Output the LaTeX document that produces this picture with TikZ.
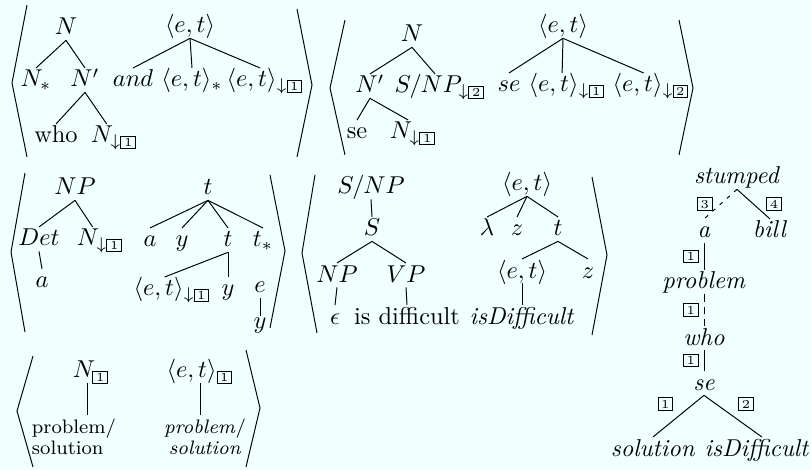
\documentclass[tikz,border=0pt]{standalone}
\usepackage{amsmath,amssymb}
\usepackage{tikz}
\usetikzlibrary{calc}
\definecolor{bgcyan}{HTML}{F0FFFF}
\newcommand{\tagbox}[1]{{\setlength{\fboxsep}{0.7pt}\fbox{\tiny\kern0.4pt#1\kern0.4pt}}}
\newcommand{\et}{\langle e,t\rangle}

\begin{document}
\begin{tikzpicture}[
 x=0.41pt, y=-0.41pt,
 tn/.style={anchor=base,inner xsep=0.5pt,inner ysep=1pt,text height=6.6pt,text depth=1pt},
 ml/.style={anchor=north,inner sep=1.5pt,font=\footnotesize},
 dl/.style={dash pattern=on 1.5pt off 2.5pt},
 dv/.style={dash pattern=on 3pt off 2pt},
 lb/.style={inner sep=0pt}
]
\fill[bgcyan] (0,0) rectangle (811,470);
\useasboundingbox (0,0) rectangle (811,470);

% angle brackets of the pairs
\draw (27,5) -- (12,83) -- (27,157);
\draw (297,9) -- (312,85) -- (297,157);
\draw (345,20) -- (330,88) -- (345,155);
\draw (679,20) -- (693,88) -- (679,155);
\draw (25,173) -- (11,252) -- (25,332);
\draw (270,175) -- (285,251) -- (270,328);
\draw (315,175) -- (302,253) -- (317,333);
\draw (592,177) -- (607,255) -- (592,335);
\draw (33,356) -- (17,411) -- (33,467);
\draw (246,350) -- (260,408) -- (246,467);

% pair 1: relative clause
\node[tn] (a1N) at (66,35) {$N$};
\node[tn] (a1Ns) at (36,87) {$N_*$};
\node[tn] (a1Np) at (85,87) {$N'$};
\node[tn] (a1who) at (56,143) {who};
\node[tn] (a1Nd) at (114,143) {$N_{\downarrow\tagbox{1}}$};
\node[tn] (b1et) at (190,33) {$\et$};
\node[tn] (b1and) at (133,87) {$and$};
\node[tn] (b1st) at (192,87) {$\et_*$};
\node[tn] (b1ft) at (265,87) {$\et_{\downarrow\tagbox{1}}$};
\foreach \p/\c in {a1N/a1Ns,a1N/a1Np,a1Np/a1who,b1et/b1and,b1et/b1st}
  \draw (\p.south) -- (\c.north);
\draw (a1Np.south) -- ([xshift=-3pt]a1Nd.north);
\draw (b1et.south) -- ([xshift=-2pt]b1ft.north);

% pair 2: se
\node[tn] (c2N) at (412,42) {$N$};
\node[tn] (c2Np) at (370,93) {$N'$};
\node[tn] (c2SNP) at (440,93) {$S/NP_{\downarrow\tagbox{2}}$};
\node[tn] (c2se) at (357,139) {se};
\node[tn] (c2Nd) at (413,139) {$N_{\downarrow\tagbox{1}}$};
\node[tn] (d2et) at (563,33) {$\et$};
\node[tn] (d2se) at (509,92) {$se$};
\node[tn] (d2f1) at (567,92) {$\et_{\downarrow\tagbox{1}}$};
\node[tn] (d2f2) at (651,92) {$\et_{\downarrow\tagbox{2}}$};
\foreach \p/\c in {c2N/c2Np,c2Np/c2se,d2et/d2se}
  \draw (\p.south) -- (\c.north);
\draw (c2N.south) -- ([xshift=-2pt]c2SNP.north);
\draw (c2Np.south) -- ([xshift=-2pt]c2Nd.north);
\draw (d2et.south) -- ([xshift=-2pt]d2f1.north);
\draw (d2et.south) -- ([xshift=-3pt]d2f2.north);

% pair 3: a
\node[tn] (e3NP) at (75,195) {$NP$};
\node[tn] (e3Det) at (39,246) {$Det$};
\node[tn] (e3Nd) at (100,246) {$N_{\downarrow\tagbox{1}}$};
\node[tn] (e3a) at (42,288) {$a$};
\node[tn] (f3t) at (208,195) {$t$};
\node[tn] (f3a) at (150,247) {$a$};
\node[tn] (f3y) at (182,247) {$y$};
\node[tn] (f3t2) at (228,247) {$t$};
\node[tn] (f3ts) at (263,247) {$t_*$};
\node[tn] (f3et) at (172,296) {$\et_{\downarrow\tagbox{1}}$};
\node[tn] (f3y2) at (228,296) {$y$};
\node[tn] (f3e) at (260,293) {$e$};
\node[tn] (f3y3) at (260,328) {$y$};
\foreach \p/\c in {e3NP/e3Det,e3Det/e3a,f3t/f3a,f3t/f3y,f3t/f3t2,f3t/f3ts,f3t2/f3y2}
  \draw (\p.south) -- (\c.north);
\draw (e3NP.south) -- ([xshift=-3pt]e3Nd.north);
\draw (f3t2.south) -- ([xshift=-3pt]f3et.north);
\draw (f3e.south) -- ([yshift=-3pt]f3y3.north);

% pair 4: is difficult
\node[tn] (g4SNP) at (371,194) {$S/NP$};
\node[tn] (g4S) at (372,236) {$S$};
\node[tn] (g4NP) at (337,282) {$NP$};
\node[tn] (g4VP) at (406,282) {$VP$};
\node[tn] (g4eps) at (335,324) {$\epsilon$};
\node[tn] (g4isd) at (407,324) {is difficult};
\node[tn] (h4et) at (527,191) {$\et$};
\node[tn] (h4lam) at (487,236) {$\lambda$};
\node[tn] (h4z) at (517,236) {$z$};
\node[tn] (h4t) at (558,236) {$t$};
\node[tn] (h4et2) at (522,278) {$\et$};
\node[tn] (h4z2) at (588,278) {$z$};
\node[tn] (h4isD) at (522,324) {\textit{isDifficult}};
\foreach \p/\c in {g4SNP/g4S,g4S/g4NP,g4S/g4VP,g4NP/g4eps,g4VP/g4isd,
                   h4et/h4lam,h4et/h4z,h4et/h4t,h4t/h4et2,h4t/h4z2,h4et2/h4isD}
  \draw (\p.south) -- (\c.north);

% pair 5: problem / solution
\node[tn] (i5N) at (91,378) {$N_{\tagbox{1}}$};
\node[ml,align=left] (i5ps) at (74,415) {problem/\\[-1pt]solution};
\node[tn] (j5et) at (200,378) {$\et_{\tagbox{1}}$};
\node[ml,align=center] (j5ps) at (205,415) {\textit{problem}/\\[-1pt]\textit{solution}};
\draw ([xshift=-1.5pt]i5N.south) -- ([xshift=-1.5pt]i5N.south |- i5ps.north);
\draw (j5et.south) -- (j5et.south |- j5ps.north);

% derivation tree
\node[tn] (stumped) at (737,184) {\textit{stumped}};
\node[tn] (da) at (704,238) {\textit{a}};
\node[tn] (dbill) at (770,238) {\textit{bill}};
\node[tn] (dproblem) at (704,289) {\textit{problem}};
\node[tn] (dwho) at (704,345) {\textit{who}};
\node[tn] (dse) at (704,390) {\textit{se}};
\node[tn] (dsol) at (653,456) {\textit{solution}};
\node[tn] (disd) at (757,456) {\textit{isDifficult}};
\draw[dl] (stumped.south) -- node[lb,left=3pt] {\tagbox{3}} (da.north);
\draw (stumped.south) -- node[lb,right=5pt] {\tagbox{4}} (dbill.north);
\draw (da.south) -- node[lb,left=2pt] {\tagbox{1}} (dproblem.north);
\draw[dv] (dproblem.south) -- node[lb,left=2pt] {\tagbox{1}} (dwho.north);
\draw (dwho.south) -- node[lb,left=2pt] {\tagbox{1}} (dse.north);
\draw (dse.south) -- node[lb,above left=2pt] {\tagbox{1}} (dsol.north);
\draw (dse.south) -- node[lb,above right=2pt] {\tagbox{2}} ([xshift=2pt]disd.north);
\end{tikzpicture}
\end{document}
